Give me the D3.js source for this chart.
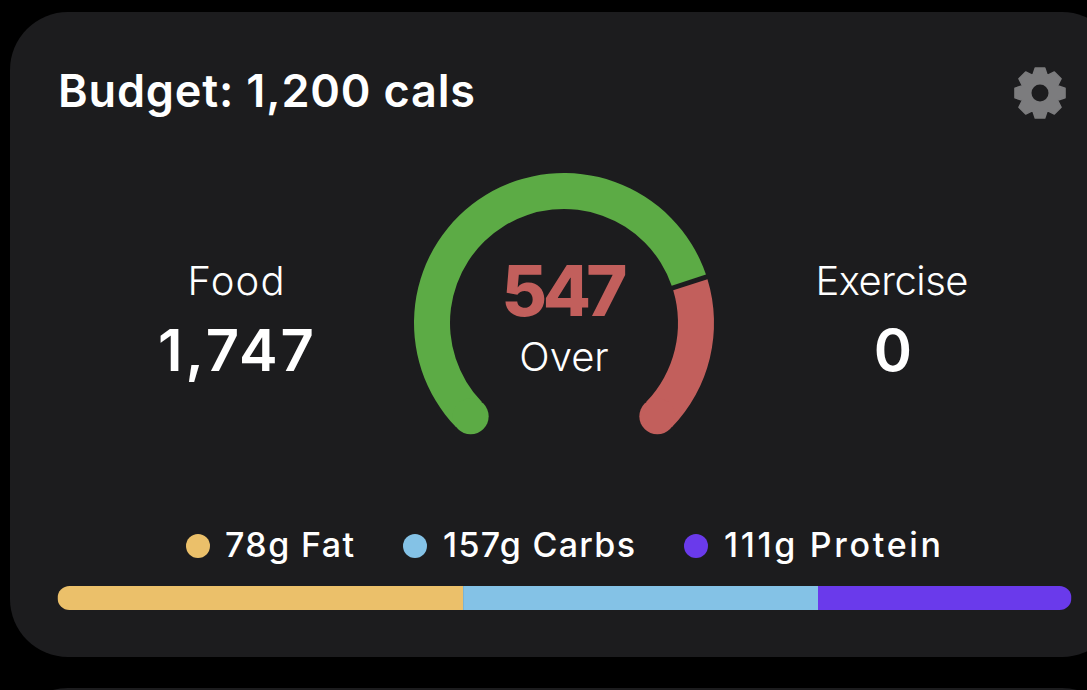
<!DOCTYPE html>
<html><head><meta charset="utf-8">
<script src="https://cdnjs.cloudflare.com/ajax/libs/d3/7.8.5/d3.min.js"></script>
<style>html,body{margin:0;padding:0;background:#000;overflow:hidden}svg{display:block}text{font-family:Inter,Lato,sans-serif;fill:#fff}</style>
</head><body><svg id="c" width="1087" height="690"></svg>
<script>
const titleText = "Budget: 1,200 cals";
const gaugeNames = ["Under budget", "Over budget"];
const gaugeShares = [77, 23];
const gaugeColors = ["#5cab45", "#c25f5c"];
const overValue = "547";
const overLabel = "Over";
const statLabels = ["Food", "Exercise"];
const statValues = ["1,747", "0"];
const macroLabels = ["78g Fat", "157g Carbs", "111g Protein"];
const macroShares = [40, 35, 25];
const macroColors = ["#ebc06a", "#84c2e6", "#6a3aeb"];

const svg = d3.select("#c");
const cardFill = "#1c1c1e";
svg.append("rect").attr("width",1087).attr("height",690).attr("fill","#000");
svg.append("rect").attr("x",10).attr("y",12).attr("width",1110).attr("height",645).attr("rx",58).attr("fill",cardFill);
svg.append("rect").attr("x",10).attr("y",688).attr("width",1110).attr("height",200).attr("rx",58).attr("fill",cardFill);

svg.append("text").attr("x",58).attr("y",107).attr("font-size",45).attr("font-weight",600).attr("textLength",417).text(titleText);

// gear
const gear = svg.append("g").attr("transform","translate(1040,93)");
const teeth = 8, pts = [];
for (let i=0;i<teeth;i++){
  const a = i*2*Math.PI/teeth;
  const st = 2*Math.PI/teeth;
  [[-0.5,19],[-0.24,25.5],[0.24,25.5],[0.5,19]].forEach(([f,r])=>pts.push(d3.pointRadial(a+f*st,r)));
}
gear.append("path").attr("d",d3.line().curve(d3.curveLinearClosed)(pts)).attr("fill","#7c7c7e").attr("stroke","#7c7c7e").attr("stroke-width",1.5).attr("stroke-linejoin","round");
gear.append("circle").attr("r",8.5).attr("fill",cardFill);

// gauge
const g = svg.append("g").attr("transform","translate(564,323)");
const rOuter = 150, rInner = 114, rMid = (rOuter+rInner)/2;
const aStart = -135*Math.PI/180, aEnd = 135*Math.PI/180;
const pie = d3.pie().sort(null).startAngle(aStart).endAngle(aEnd).padAngle(0.026);
const arc = d3.arc().innerRadius(rInner).outerRadius(rOuter);
g.selectAll("path.seg").data(pie(gaugeShares)).join("path").attr("class","seg").attr("d",arc).attr("fill",(d,i)=>gaugeColors[i]).append("title").text((d,i)=>gaugeNames[i]);
[[aStart,0],[aEnd,1]].forEach(([a,i])=>{
  const [x,y]=d3.pointRadial(a,rMid);
  g.append("circle").attr("cx",x).attr("cy",y).attr("r",(rOuter-rInner)/2).attr("fill",gaugeColors[i]);
});
svg.append("text").attr("x",564.5).attr("y",316).attr("text-anchor","middle").attr("font-size",70).attr("font-weight",800).attr("textLength",126).style("fill",gaugeColors[1]).text(overValue);
svg.append("text").attr("x",564).attr("y",371).attr("text-anchor","middle").attr("font-size",40).attr("font-weight",300).text(overLabel);

// stats
const statX = d3.scalePoint().domain(statLabels).range([236,892]);
const statLabelWidths = [97,153], statValueWidths = [156,null];
statLabels.forEach((s,i)=>{
  svg.append("text").attr("x",statX(s)).attr("y",295).attr("text-anchor","middle").attr("font-size",40).attr("font-weight",300).attr("textLength",statLabelWidths[i]).text(s);
  svg.append("text").attr("x",i?statX(s)+1:statX(s)).attr("y",371).attr("text-anchor","middle").attr("font-size",58).attr("font-weight",600).attr("textLength",statValueWidths[i]).text(statValues[i]);
});

// macro bar
const x = d3.scaleLinear().domain([0,d3.sum(macroShares)]).range([57.5,1071.5]);
let acc=0;
const stacks = macroShares.map(v=>{const s={a:acc,b:acc+v};acc+=v;return s;});
svg.append("clipPath").attr("id","bar").append("rect").attr("x",x(0)).attr("y",586).attr("width",x(100)-x(0)).attr("height",24).attr("rx",12);
svg.append("g").attr("clip-path","url(#bar)").selectAll("rect").data(stacks).join("rect")
  .attr("x",d=>x(d.a)).attr("y",586).attr("width",d=>x(d.b)-x(d.a)).attr("height",24).attr("fill",(d,i)=>macroColors[i]);

// legend
const legendDot = [198,415,696], legendText=[225,443,724], legendWidths=[129,192,217];
macroLabels.forEach((m,i)=>{
  svg.append("circle").attr("cx",legendDot[i]).attr("cy",546).attr("r",12).attr("fill",macroColors[i]);
  svg.append("text").attr("x",legendText[i]).attr("y",557).attr("font-size",34).attr("font-weight",500).attr("textLength",legendWidths[i]).text(m);
});
</script></body></html>
